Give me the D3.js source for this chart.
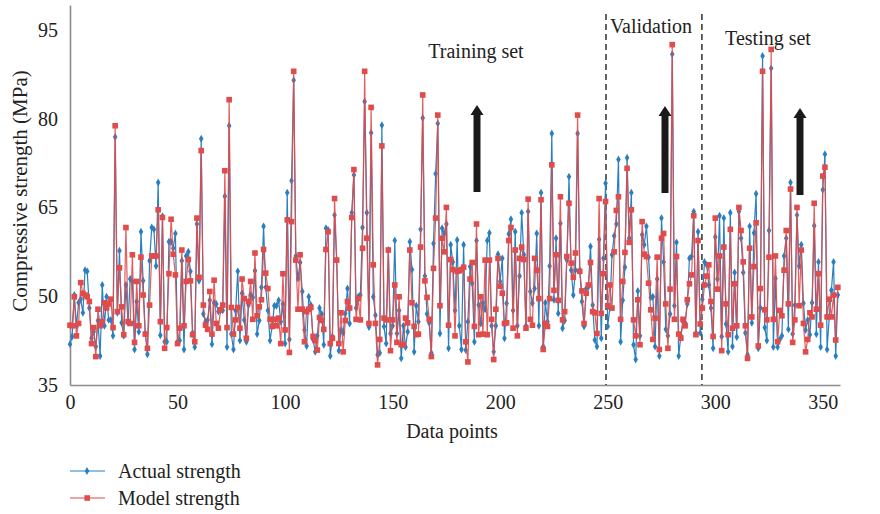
<!DOCTYPE html>
<html>
<head>
<meta charset="utf-8">
<script src="https://cdn.jsdelivr.net/npm/d3@7/dist/d3.min.js"></script>
<style>
  html, body { margin: 0; padding: 0; background: #fff; }
  svg { display: block; }
  text { font-family: "Liberation Serif", "DejaVu Serif", serif; fill: #222; }
</style>
</head>
<body>
<svg id="chart" width="880" height="514"></svg>
<script>
// Measured compressive strength of each specimen (MPa)
const actualStrength = [
  41.9, 43.2, 50.2, 45.0, 48.9, 49.5, 47.2, 54.4, 54.2, 48.0,
  42.9, 44.0, 41.5, 45.9, 39.9, 51.9, 45.0, 49.9, 46.0, 46.0,
  43.3, 76.9, 47.2, 57.7, 45.5, 43.3, 51.9, 45.5, 52.9, 52.5,
  41.0, 49.1, 44.0, 60.9, 52.6, 43.7, 40.2, 56.0, 61.6, 61.3,
  55.1, 69.2, 43.4, 63.5, 42.3, 42.3, 59.2, 59.2, 58.1, 60.6,
  42.3, 42.5, 56.0, 41.0, 56.8, 57.5, 54.2, 43.8, 41.4, 62.2,
  52.6, 76.6, 47.0, 45.7, 46.0, 49.3, 41.9, 48.9, 48.7, 47.4,
  47.6, 47.6, 66.9, 41.4, 78.8, 43.6, 41.0, 47.6, 54.2, 42.5,
  50.5, 46.0, 42.3, 48.5, 50.2, 49.8, 54.3, 43.6, 45.9, 51.5,
  61.8, 51.5, 47.6, 42.5, 45.0, 48.4, 48.4, 49.3, 45.7, 48.7,
  42.0, 67.5, 42.7, 69.5, 86.5, 56.8, 53.0, 55.7, 50.8, 44.3,
  41.6, 49.9, 48.5, 42.7, 40.6, 43.3, 48.0, 47.0, 41.8, 61.5,
  61.2, 39.9, 43.2, 63.7, 56.1, 40.8, 44.3, 43.8, 47.1, 51.3,
  45.4, 64.1, 70.5, 48.0, 49.9, 50.2, 61.6, 82.9, 64.1, 44.8,
  77.6, 49.9, 46.8, 40.1, 40.4, 78.9, 44.9, 42.0, 57.8, 43.7,
  45.0, 59.4, 43.7, 47.6, 39.5, 45.0, 41.4, 44.0, 59.2, 54.5,
  40.6, 48.4, 45.7, 61.3, 80.1, 53.4, 47.0, 45.5, 40.4, 58.9,
  70.7, 79.2, 43.7, 61.5, 60.6, 62.2, 41.2, 58.7, 55.8, 47.6,
  59.5, 45.0, 41.0, 58.7, 40.9, 45.7, 55.0, 52.2, 42.3, 59.4,
  48.5, 45.4, 48.9, 47.8, 59.4, 60.7, 45.0, 40.6, 45.0, 57.1,
  52.5, 56.4, 42.9, 48.8, 60.5, 63.0, 47.6, 60.9, 45.0, 53.4,
  64.1, 57.0, 45.0, 64.3, 50.8, 48.8, 51.3, 60.6, 45.0, 67.5,
  41.5, 48.9, 45.7, 55.1, 77.5, 49.4, 59.8, 47.1, 62.3, 44.6,
  45.9, 56.1, 70.2, 54.4, 50.2, 54.4, 77.5, 54.4, 49.1, 44.9,
  51.3, 51.6, 58.4, 48.5, 42.6, 41.5, 59.6, 42.9, 56.4, 69.1,
  44.9, 48.0, 57.0, 60.2, 62.2, 73.1, 42.3, 49.3, 54.9, 73.4,
  59.8, 67.5, 41.8, 39.3, 50.9, 43.3, 60.4, 58.7, 61.8, 56.6,
  49.8, 49.9, 41.5, 52.9, 39.9, 63.2, 55.8, 44.4, 43.3, 47.0,
  90.9, 48.4, 59.1, 39.9, 43.3, 45.7, 45.5, 48.7, 56.4, 56.7,
  64.3, 43.8, 60.9, 43.8, 49.5, 55.8, 55.3, 51.9, 48.0, 41.2,
  60.0, 52.9, 63.6, 43.2, 63.2, 45.3, 40.6, 64.1, 41.5, 54.0,
  43.1, 64.3, 59.8, 54.0, 43.8, 40.1, 61.8, 45.5, 60.7, 67.3,
  41.2, 48.0, 90.6, 44.7, 42.5, 61.1, 88.5, 41.4, 53.0, 41.4,
  42.7, 43.3, 56.8, 59.8, 44.4, 69.2, 43.6, 48.5, 63.7, 55.1,
  58.7, 48.8, 44.3, 46.0, 43.5, 48.9, 61.9, 43.6, 55.8, 41.4,
  68.0, 74.0, 41.0, 46.5, 51.0, 55.8, 39.9, 50.2
];

// Strength predicted by the model for the same specimens (MPa)
const modelStrength = [
  45.1, 45.0, 49.9, 43.3, 45.4, 52.3, 50.5, 50.2, 49.9, 49.1,
  42.0, 44.7, 39.8, 47.8, 45.0, 45.7, 48.9, 48.0, 48.7, 49.5,
  44.7, 78.8, 47.4, 54.8, 48.2, 43.5, 61.6, 45.7, 45.4, 57.0,
  42.2, 52.5, 45.0, 56.6, 50.2, 43.6, 41.2, 48.5, 56.8, 56.8,
  56.8, 64.6, 45.7, 63.3, 41.2, 44.7, 53.8, 63.0, 57.1, 53.6,
  42.0, 44.6, 57.8, 45.0, 52.5, 56.2, 52.6, 43.5, 42.3, 63.2,
  53.2, 74.6, 48.5, 45.1, 44.4, 50.8, 43.6, 52.7, 45.4, 44.6,
  47.7, 48.5, 71.2, 44.7, 83.2, 48.1, 43.6, 46.0, 48.1, 44.6,
  52.9, 49.6, 42.9, 49.1, 52.5, 46.1, 57.3, 46.7, 48.2, 49.4,
  57.9, 53.9, 51.3, 46.1, 44.9, 46.1, 45.0, 46.3, 42.0, 53.8,
  44.3, 62.9, 40.5, 62.6, 88.0, 56.1, 47.8, 57.0, 47.8, 42.3,
  47.4, 47.8, 48.1, 43.2, 42.5, 40.9, 46.4, 45.9, 44.4, 57.9,
  60.9, 42.0, 42.9, 66.5, 56.1, 42.0, 47.2, 40.6, 45.9, 49.1,
  48.0, 63.3, 71.4, 46.1, 49.6, 46.0, 58.1, 88.0, 59.8, 45.4,
  81.9, 55.3, 45.4, 38.4, 42.7, 75.4, 46.3, 46.0, 57.8, 40.8,
  46.0, 51.9, 42.2, 49.9, 41.8, 41.8, 46.3, 45.5, 57.8, 48.9,
  44.9, 43.5, 43.6, 58.3, 84.0, 52.6, 49.8, 46.1, 39.8, 54.7,
  63.2, 80.6, 48.4, 59.8, 57.5, 65.0, 45.1, 56.2, 54.5, 43.3,
  54.2, 54.3, 54.5, 54.9, 42.3, 38.9, 52.9, 55.7, 44.9, 62.2,
  43.5, 49.9, 43.6, 56.1, 43.5, 56.1, 46.1, 39.3, 47.8, 56.4,
  51.7, 50.5, 45.4, 45.5, 59.4, 61.6, 44.6, 57.8, 43.3, 56.4,
  58.3, 56.2, 44.6, 66.4, 46.1, 45.1, 56.4, 54.4, 49.6, 66.3,
  41.0, 45.4, 44.9, 49.6, 72.2, 51.0, 57.0, 49.3, 66.8, 46.0,
  47.4, 56.7, 65.7, 55.6, 53.2, 57.3, 80.6, 54.2, 50.9, 45.4,
  50.5, 51.9, 55.7, 47.4, 47.2, 43.7, 66.5, 47.1, 53.8, 66.0,
  48.4, 51.9, 48.0, 57.5, 64.5, 66.8, 46.1, 52.5, 57.4, 71.6,
  59.1, 64.6, 46.0, 43.3, 49.4, 41.8, 62.6, 57.1, 56.7, 52.2,
  47.7, 42.7, 46.3, 56.6, 41.0, 59.8, 60.6, 48.7, 41.2, 51.2,
  92.5, 46.1, 56.7, 43.6, 42.9, 46.1, 45.0, 49.4, 52.1, 53.6,
  63.6, 43.5, 59.4, 45.3, 48.0, 51.9, 53.4, 55.3, 49.1, 43.2,
  63.2, 51.2, 56.8, 40.8, 58.3, 48.7, 43.5, 61.3, 44.6, 52.1,
  45.0, 65.0, 61.1, 55.8, 45.0, 39.5, 58.1, 46.5, 55.0, 62.4,
  41.6, 51.3, 88.0, 47.7, 46.0, 56.6, 91.7, 46.1, 56.8, 42.3,
  47.6, 46.7, 54.4, 61.1, 48.7, 68.1, 42.2, 46.0, 65.0, 48.4,
  57.8, 45.4, 40.6, 42.7, 47.2, 46.5, 65.7, 47.8, 53.8, 45.1,
  70.3, 71.8, 46.5, 49.5, 46.5, 50.2, 42.6, 51.5
];

const xTickValues = [0, 50, 100, 150, 200, 250, 300, 350];
const yTickValues = [35, 50, 65, 80, 95];

// Boundaries between the three subsets (data-point index)
const splitPoints = [249.2, 293.8];
const subsetLabels = ["Training set", "Validation", "Testing set"];
const seriesNames = ["Actual strength", "Model strength"];

const blue = "#2a7fbf";
const red = "#e04b4b";
const axisGrey = "#8c8c8c";

const svg = d3.select("#chart");

const x = d3.scaleLinear().domain([0, 358]).range([70, 840]);
const y = d3.scaleLinear().domain([35, 99.2]).range([385, 5]);

// Axes: left and bottom only, no tick marks
const xAxis = svg.append("g")
  .attr("transform", `translate(0,${y(35)})`)
  .call(d3.axisBottom(x).tickValues(xTickValues).tickSize(0).tickPadding(10).tickFormat(d3.format("d")));
const yAxis = svg.append("g")
  .attr("transform", `translate(${x(0)},0)`)
  .call(d3.axisLeft(y).tickValues(yTickValues).tickSize(0).tickPadding(12).tickFormat(d3.format("d")));

[xAxis, yAxis].forEach(g => {
  g.select(".domain").attr("stroke", axisGrey).attr("stroke-width", 1.6);
  g.selectAll("text")
    .style("font-family", '"Liberation Serif", "DejaVu Serif", serif')
    .style("font-size", "20px").attr("fill", "#222");
});

// Axis titles
svg.append("text")
  .attr("x", 452).attr("y", 438)
  .attr("text-anchor", "middle").style("font-size", "20px")
  .text("Data points");
svg.append("text")
  .attr("transform", "translate(27,191) rotate(-90)")
  .attr("text-anchor", "middle").style("font-size", "21px")
  .text("Compressive strength (MPa)");

// Dashed separators between subsets
svg.selectAll("line.split")
  .data(splitPoints)
  .enter().append("line")
  .attr("class", "split")
  .attr("x1", d => x(d)).attr("x2", d => x(d))
  .attr("y1", 14).attr("y2", y(35))
  .attr("stroke", "#222").attr("stroke-width", 1.4)
  .attr("stroke-dasharray", "6,4");

// Series lines
const idx = d3.range(actualStrength.length);
const line = arr => d3.line().x(i => x(i)).y(i => y(arr[i]))(idx);

svg.append("path")
  .attr("d", line(actualStrength))
  .attr("fill", "none").attr("stroke", blue).attr("stroke-width", 1.2);

const diamond = d3.symbol().type(d3.symbolDiamond).size(18);
svg.append("g").selectAll("path")
  .data(idx).enter().append("path")
  .attr("d", diamond)
  .attr("transform", i => `translate(${x(i)},${y(actualStrength[i])})`)
  .attr("fill", blue);

svg.append("path")
  .attr("d", line(modelStrength))
  .attr("fill", "none").attr("stroke", red).attr("stroke-width", 1.2)
  .attr("stroke-opacity", 0.9);

svg.append("g").selectAll("rect")
  .data(idx).enter().append("rect")
  .attr("x", i => x(i) - 2.8).attr("y", i => y(modelStrength[i]) - 2.8)
  .attr("width", 5.6).attr("height", 5.6)
  .attr("fill", red);

// Subset labels
const labelPos = [[476, 58], [651, 33], [768, 45]];
svg.selectAll("text.subset")
  .data(subsetLabels)
  .enter().append("text")
  .attr("class", "subset")
  .attr("x", (d, i) => labelPos[i][0]).attr("y", (d, i) => labelPos[i][1])
  .attr("text-anchor", "middle").style("font-size", "20px")
  .text(d => d);

// Upward arrows under each subset label
const arrows = [[477, 105, 192], [665, 106, 193], [800, 108, 195]];
arrows.forEach(([ax, top, bottom]) => {
  svg.append("rect")
    .attr("x", ax - 3.5).attr("y", top + 8)
    .attr("width", 7).attr("height", bottom - top - 8)
    .attr("fill", "#1a1a1a");
  svg.append("path")
    .attr("d", `M${ax},${top} L${ax + 6.5},${top + 10} L${ax - 6.5},${top + 10} Z`)
    .attr("fill", "#1a1a1a");
});

// Legend
const legend = svg.append("g");
[0, 1].forEach(k => {
  const ly = 471 + k * 27;
  const col = k === 0 ? blue : red;
  legend.append("line")
    .attr("x1", 70).attr("x2", 105).attr("y1", ly).attr("y2", ly)
    .attr("stroke", col).attr("stroke-width", 1.2);
  if (k === 0) {
    legend.append("path").attr("d", diamond).attr("transform", `translate(87,${ly})`).attr("fill", col);
  } else {
    legend.append("rect").attr("x", 84.4).attr("y", ly - 2.8).attr("width", 5.6).attr("height", 5.6).attr("fill", col);
  }
  legend.append("text")
    .attr("x", 118).attr("y", ly + 7)
    .style("font-size", "20px")
    .text(seriesNames[k]);
});
</script>
</body>
</html>
